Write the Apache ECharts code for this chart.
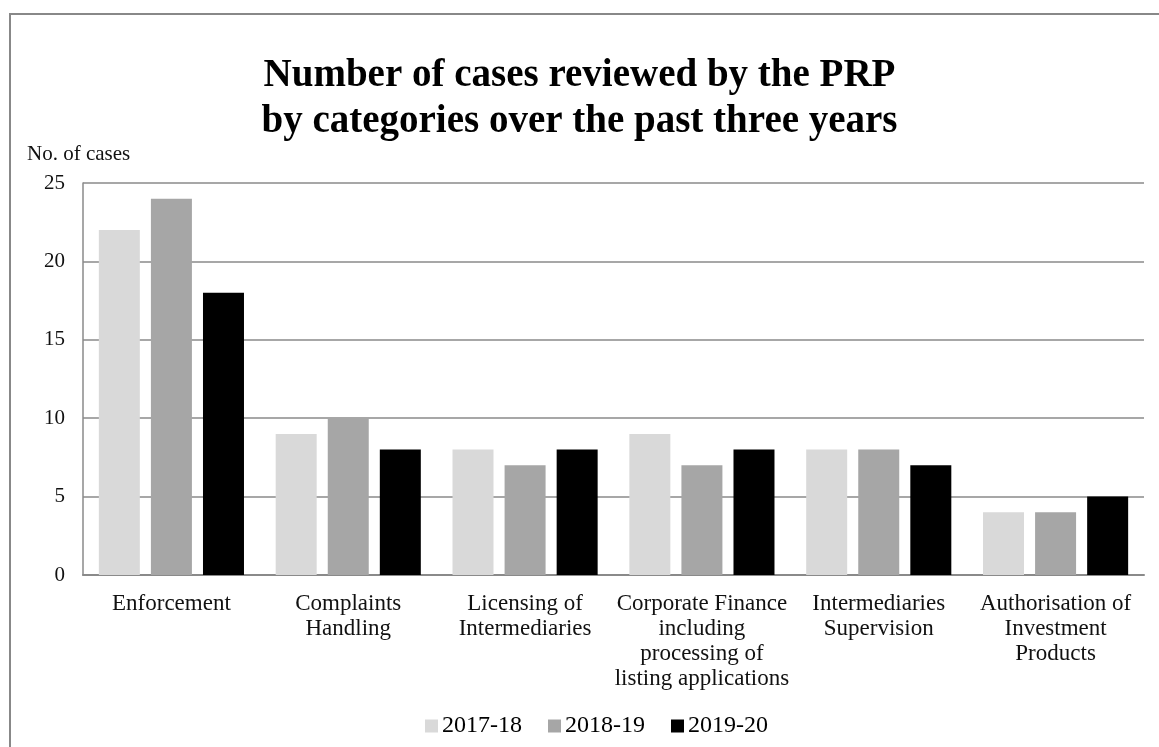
<!DOCTYPE html>
<html>
<head>
<meta charset="utf-8">
<script src="https://cdn.jsdelivr.net/npm/echarts@6/dist/echarts.min.js"></script>
<style>
html,body{margin:0;padding:0;background:#fff;}
#c{width:1159px;height:747px;}
</style>
</head>
<body>
<div id="c"></div>
<script>
const categories = [
  'Enforcement',
  'Complaints\nHandling',
  'Licensing of\nIntermediaries',
  'Corporate Finance\nincluding\nprocessing of\nlisting applications',
  'Intermediaries\nSupervision',
  'Authorisation of\nInvestment\nProducts'
];
const seriesNames = ['2017-18', '2018-19', '2019-20'];
const values2017 = [22, 9, 8, 9, 8, 4];
const values2018 = [24, 10, 7, 7, 8, 4];
const values2019 = [18, 8, 8, 8, 7, 5];
const yTicks = [0, 5, 10, 15, 20, 25];

const colors = ['#d9d9d9', '#a6a6a6', '#000000'];
const FONT = "'Liberation Serif','Times New Roman',serif";
const chart = echarts.init(document.getElementById('c'), null, {renderer: 'canvas'});
const allVals = [values2017, values2018, values2019];
chart.setOption({
  backgroundColor: '#fff',
  animation: false,
  graphic: [{
    type: 'rect',
    shape: {x: 10, y: 14, width: 1200, height: 800},
    style: {fill: 'none', stroke: '#888888', lineWidth: 2},
    silent: true
  }],
  title: {
    text: 'Number of cases reviewed by the PRP\nby categories over the past three years',
    left: 'center',
    top: 48,
    textStyle: {fontFamily: FONT, fontWeight: 'bold', fontSize: 39, lineHeight: 46, color: '#000'}
  },
  legend: {
    data: seriesNames,
    left: 420,
    top: 709,
    itemWidth: 13,
    itemHeight: 13,
    itemGap: 26,
    icon: 'rect',
    textStyle: {fontFamily: FONT, fontSize: 24, color: '#000', padding: [0, 0, 0, -1]}
  },
  grid: {left: 83, right: 15, top: 183, bottom: 172, containLabel: false},
  xAxis: {
    type: 'category',
    data: categories,
    axisLine: {lineStyle: {color: '#8a8a8a', width: 2}},
    axisTick: {show: false},
    axisLabel: {fontFamily: FONT, fontSize: 23, lineHeight: 25, color: '#111', margin: 16, interval: 0}
  },
  yAxis: {
    type: 'value',
    min: yTicks[0],
    max: yTicks[yTicks.length - 1],
    interval: 5,
    name: 'No. of cases',
    nameLocation: 'end',
    nameGap: 18,
    nameTextStyle: {fontFamily: FONT, fontSize: 21, color: '#111', align: 'left', padding: [0, 0, 0, -56]},
    axisLine: {show: true, lineStyle: {color: '#8a8a8a', width: 1.5}},
    axisTick: {show: false},
    splitLine: {lineStyle: {color: '#8a8a8a', width: 1.5}},
    axisLabel: {fontFamily: FONT, fontSize: 21, color: '#111', margin: 18}
  },
  series: seriesNames.map((n, i) => ({
    name: n,
    type: 'bar',
    data: allVals[i],
    barWidth: 41,
    barGap: '27%',
    itemStyle: {color: colors[i]}
  }))
});
</script>
</body>
</html>
